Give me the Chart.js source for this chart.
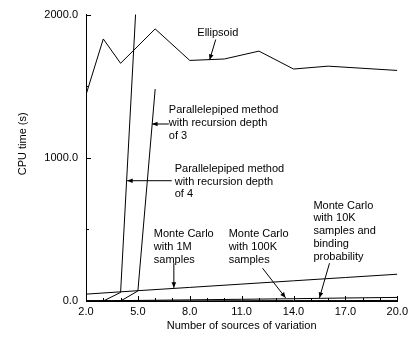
<!DOCTYPE html>
<html>
<head>
<meta charset="utf-8">
<script src="https://cdn.jsdelivr.net/npm/chart.js@4"></script>
<style>
  html, body { margin: 0; padding: 0; background: #fff; }
  #wrap { width: 412px; height: 337px; }
</style>
</head>
<body>
<div id="wrap"><canvas id="c" width="412" height="337"></canvas></div>
<script>
// ---- data ----
const xTickValues = [2, 5, 8, 11, 14, 17, 20];
const yTickValues = [0, 1000, 2000];

const ellipsoidX = [2, 3, 4, 6, 8, 10, 12, 14, 16, 20];
const ellipsoidY = [1440, 1830, 1660, 1900, 1680, 1690, 1745, 1620, 1640, 1610];

const para4X = [2, 3, 4, 5];
const para4Y = [0, 0, 60, 2300];

const para3X = [2, 3, 4, 5, 6];
const para3Y = [0, 0, 0, 70, 1480];

const mc1mX = [2, 5, 8, 11, 14, 17, 20];
const mc1mY = [48, 72, 95, 118, 141, 164, 187];

const mc100kX = [2, 5, 8, 11, 14, 17, 20];
const mc100kY = [1, 4, 8, 12, 16, 21, 25];

const mc10kX = [2, 5, 8, 11, 14, 17, 20];
const mc10kY = [0, 1, 1, 2, 3, 3, 4];

// annotations: text lines, text anchor (data coords, left/center), arrow from->to (data coords)
const annotations = [
  { lines: ['Ellipsoid'], align: 'center', at: [9.62, 1875], arrow: [[9.5, 1826], [9.15, 1684]] },
  { lines: ['Parallelepiped method', 'with recursion depth', 'of 3'], align: 'left', at: [6.79, 1333], arrow: [[6.79, 1236], [5.82, 1236]] },
  { lines: ['Parallelepiped method', 'with recursion depth', 'of 4'], align: 'left', at: [7.13, 924], arrow: [[6.96, 840], [4.38, 840]] },
  { lines: ['Monte Carlo', 'with 1M', 'samples'], align: 'left', at: [5.92, 465], arrow: [[7.08, 264], [7.08, 92]] },
  { lines: ['Monte Carlo', 'with 100K', 'samples'], align: 'left', at: [10.25, 465], arrow: [[12.21, 229], [13.54, 22]] },
  { lines: ['Monte Carlo', 'with 10K', 'samples and', 'binding', 'probability'], align: 'left', at: [15.15, 667], arrow: [[16.08, 264], [15.5, 22]] }
];

const FONT = '11px "Liberation Sans", Arial, sans-serif';

function pts(xs, ys) { return xs.map((x, i) => ({ x: x, y: ys[i] })); }
function ds(label, xs, ys) {
  return { label: label, data: pts(xs, ys), borderColor: '#000', borderWidth: 1,
           pointRadius: 0, showLine: true, fill: false, tension: 0 };
}

const annotPlugin = {
  id: 'annot',
  afterDatasetsDraw(chart) {
    const ctx = chart.ctx, xs = chart.scales.x, ys = chart.scales.y;
    ctx.save();
    ctx.fillStyle = '#000';
    ctx.strokeStyle = '#000';
    ctx.lineWidth = 1;
    ctx.font = FONT;
    ctx.textBaseline = 'middle';
    annotations.forEach(a => {
      const tx = xs.getPixelForValue(a.at[0]);
      const ty = ys.getPixelForValue(a.at[1]);
      ctx.textAlign = a.align;
      a.lines.forEach((l, i) => ctx.fillText(l, tx, ty + i * 12.8));
      const x1 = xs.getPixelForValue(a.arrow[0][0]), y1 = ys.getPixelForValue(a.arrow[0][1]);
      const x2 = xs.getPixelForValue(a.arrow[1][0]), y2 = ys.getPixelForValue(a.arrow[1][1]);
      ctx.beginPath(); ctx.moveTo(x1, y1); ctx.lineTo(x2, y2); ctx.stroke();
      const ang = Math.atan2(y2 - y1, x2 - x1), L = 6, W = 0.4;
      ctx.beginPath();
      ctx.moveTo(x2, y2);
      ctx.lineTo(x2 - L * Math.cos(ang - W), y2 - L * Math.sin(ang - W));
      ctx.lineTo(x2 - L * Math.cos(ang + W), y2 - L * Math.sin(ang + W));
      ctx.closePath(); ctx.fill();
    });
    // inward tick marks
    const bottom = chart.chartArea.bottom, left = chart.chartArea.left;
    xs.ticks.forEach(t => {
      const px = Math.round(xs.getPixelForValue(t.value)) + 0.5;
      const major = xTickValues.includes(t.value);
      ctx.beginPath(); ctx.moveTo(px, bottom); ctx.lineTo(px, bottom - (major ? 5 : 3)); ctx.stroke();
    });
    ys.ticks.forEach(t => {
      const py = Math.round(ys.getPixelForValue(t.value)) + 0.5;
      const major = yTickValues.includes(t.value);
      ctx.beginPath(); ctx.moveTo(left, py); ctx.lineTo(left + (major ? 5 : 3), py); ctx.stroke();
    });
    // y axis title
    ctx.translate(23, ys.getPixelForValue(1000) - 14);
    ctx.rotate(-Math.PI / 2);
    ctx.textAlign = 'center';
    ctx.fillText('CPU time (s)', 0, 0);
    ctx.restore();
  }
};

new Chart(document.getElementById('c'), {
  type: 'scatter',
  data: {
    datasets: [
      ds('Ellipsoid', ellipsoidX, ellipsoidY),
      ds('Parallelepiped depth 4', para4X, para4Y),
      ds('Parallelepiped depth 3', para3X, para3Y),
      ds('Monte Carlo 1M', mc1mX, mc1mY),
      ds('Monte Carlo 100K', mc100kX, mc100kY),
      ds('Monte Carlo 10K binding', mc10kX, mc10kY)
    ]
  },
  options: {
    responsive: false,
    animation: false,
    devicePixelRatio: 1,
    layout: { padding: { top: 13, right: 14, left: 0, bottom: 0 } },
    plugins: { legend: { display: false }, tooltip: { enabled: false } },
    scales: {
      x: {
        type: 'linear', min: 2, max: 20,
        grid: { display: false, drawTicks: false },
        border: { display: true, color: '#000', width: 1 },
        ticks: {
          stepSize: 1, autoSkip: false, maxRotation: 0, padding: 4, color: '#000',
          font: { family: '"Liberation Sans", Arial, sans-serif', size: 11 },
          callback: v => xTickValues.includes(v) ? v.toFixed(1) : ''
        },
        title: {
          display: true, text: 'Number of sources of variation', color: '#000',
          font: { family: '"Liberation Sans", Arial, sans-serif', size: 11 },
          padding: { top: 0, bottom: 4 }
        },
        afterFit: s => { s.height = 36; }
      },
      y: {
        type: 'linear', min: 0, max: 2000,
        grid: { display: false, drawTicks: false },
        border: { display: true, color: '#000', width: 1 },
        ticks: {
          stepSize: 500, autoSkip: false, padding: 8, color: '#000',
          font: { family: '"Liberation Sans", Arial, sans-serif', size: 11 },
          callback: v => yTickValues.includes(v) ? v.toFixed(1) : ''
        },
        afterFit: s => { s.width = 86; }
      }
    }
  },
  plugins: [annotPlugin]
});
</script>
</body>
</html>
